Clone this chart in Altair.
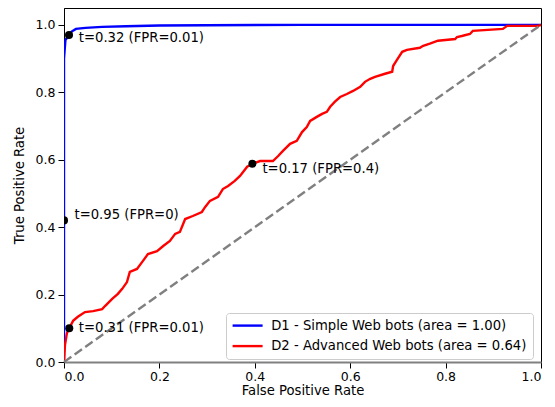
import altair as alt
import pandas as pd

# ---- data ----
blue_name = "D1 - Simple Web bots (area = 1.00)"
red_name = "D2 - Advanced Web bots (area = 0.64)"

blue_fpr = [0.0, 0.0, 0.0, 0.003, 0.0105, 0.016, 0.025, 0.045, 0.08, 0.13, 0.2, 0.3, 0.5, 1.0]
blue_tpr = [0.0, 0.42, 0.90, 0.955, 0.970, 0.980, 0.988, 0.991, 0.994, 0.996, 0.998, 0.999, 1.0, 1.0]

red_fpr = [0.0, 0.002, 0.006, 0.011, 0.019, 0.029, 0.044, 0.061, 0.080, 0.086, 0.101, 0.113,
           0.122, 0.132, 0.138, 0.153, 0.164, 0.176, 0.195, 0.208, 0.222, 0.233, 0.243, 0.254,
           0.270, 0.289, 0.296, 0.306, 0.323, 0.333, 0.344, 0.358, 0.369, 0.384, 0.395, 0.411,
           0.438, 0.449, 0.459, 0.474, 0.488, 0.499, 0.509, 0.516, 0.530, 0.541, 0.551, 0.558,
           0.568, 0.579, 0.593, 0.606, 0.621, 0.631, 0.642, 0.652, 0.673, 0.688, 0.690, 0.698,
           0.709, 0.719, 0.746, 0.753, 0.767, 0.784, 0.820, 0.824, 0.834, 0.851, 0.857, 0.920,
           0.929, 0.994, 1.0]
red_tpr = [0.0, 0.05, 0.085, 0.10, 0.122, 0.134, 0.148, 0.151, 0.157, 0.166, 0.187, 0.202,
           0.217, 0.237, 0.267, 0.276, 0.297, 0.320, 0.329, 0.344, 0.359, 0.380, 0.386, 0.424,
           0.433, 0.445, 0.460, 0.478, 0.490, 0.513, 0.522, 0.537, 0.552, 0.579, 0.588, 0.596,
           0.596, 0.611, 0.626, 0.647, 0.656, 0.682, 0.697, 0.715, 0.727, 0.736, 0.742, 0.757,
           0.772, 0.786, 0.795, 0.804, 0.816, 0.831, 0.840, 0.846, 0.855, 0.861, 0.878, 0.896,
           0.920, 0.926, 0.932, 0.938, 0.944, 0.953, 0.958, 0.964, 0.967, 0.973, 0.982, 0.988,
           0.997, 0.997, 1.0]

diag_x = [0.0, 1.0]
diag_y = [0.0, 1.0]

# threshold annotations: point, text anchor, label
pt_fpr = [0.0105, 0.0, 0.011, 0.395]
pt_tpr = [0.970, 0.42, 0.10, 0.588]
lab_x = [0.031, 0.022, 0.031, 0.416]
lab_y = [0.962, 0.436, 0.100, 0.572]
labels = ["t=0.32 (FPR=0.01)", "t=0.95 (FPR=0)", "t=0.31 (FPR=0.01)", "t=0.17 (FPR=0.4)"]

x_ticks = [0.0, 0.2, 0.4, 0.6, 0.8, 1.0]
y_ticks = [0.0, 0.2, 0.4, 0.6, 0.8, 1.0]

# ---- tables ----
curves = pd.concat([
    pd.DataFrame({"fpr": blue_fpr, "tpr": blue_tpr, "series": blue_name, "i": range(len(blue_fpr))}),
    pd.DataFrame({"fpr": red_fpr, "tpr": red_tpr, "series": red_name, "i": range(len(red_fpr))}),
])
diag = pd.DataFrame({"fpr": diag_x, "tpr": diag_y})
pts = pd.DataFrame({"fpr": pt_fpr, "tpr": pt_tpr})
labs = pd.DataFrame({"fpr": lab_x, "tpr": lab_y, "label": labels})

FONT = "DejaVu Sans"
TXT = 13.2
xs = alt.Scale(domain=[0, 1], nice=False, zero=False)
ys = alt.Scale(domain=[0, 1.05], nice=False, zero=False)

X = alt.X("fpr:Q", scale=xs,
          axis=alt.Axis(title="False Positive Rate", values=x_ticks, format=".1f"))
Y = alt.Y("tpr:Q", scale=ys,
          axis=alt.Axis(title="True Positive Rate", values=y_ticks, format=".1f"))

lines = alt.Chart(curves).mark_line(strokeWidth=2.4, clip=True).encode(
    x=X, y=Y,
    color=alt.Color("series:N",
                    scale=alt.Scale(domain=[blue_name, red_name], range=["#0000ff", "#ff0000"]),
                    legend=alt.Legend(title=None, orient="none", legendX=162, legendY=305,
                                      symbolType="M-1.2,0L4.8,0", symbolSize=100, symbolStrokeWidth=2.4,
                                      labelFontSize=TXT, labelFont=FONT, labelColor="black",
                                      labelLimit=500, labelOffset=26, rowPadding=6.5, padding=6,
                                      strokeColor="#cccccc", fillColor="rgba(255,255,255,0.85)",
                                      cornerRadius=3)),
    order="i:Q",
)

diag_line = alt.Chart(diag).mark_line(color="gray", strokeWidth=2.4, strokeDash=[9, 4]).encode(
    x=X, y=Y
)

dots = alt.Chart(pts).mark_circle(color="black", size=65, opacity=1, clip=True).encode(x=X, y=Y)

texts = alt.Chart(labs).mark_text(align="left", baseline="middle", fontSize=TXT, font=FONT,
                                  color="black").encode(x=X, y=Y, text="label:N")

chart = alt.layer(lines, diag_line, dots, texts).properties(
    width=477, height=354,
    padding={"left": 56, "top": 0, "right": 6, "bottom": 37},
    autosize=alt.AutoSizeParams(type="none"),
).configure_view(stroke="black", strokeWidth=1).configure_axis(
    grid=False, domainColor="black", tickColor="black", tickSize=6, tickWidth=1,
    labelFont=FONT, labelFontSize=12.5, labelColor="black", labelPadding=2,
    titleFont=FONT, titleFontSize=TXT, titleFontWeight="normal", titleColor="black",
).configure_axisX(titlePadding=2, domainColor="#808080", domainWidth=2).configure_axisY(
    titlePadding=9, labelPadding=3)

chart.save("out.html", embed_options={"renderer": "svg", "actions": False})
